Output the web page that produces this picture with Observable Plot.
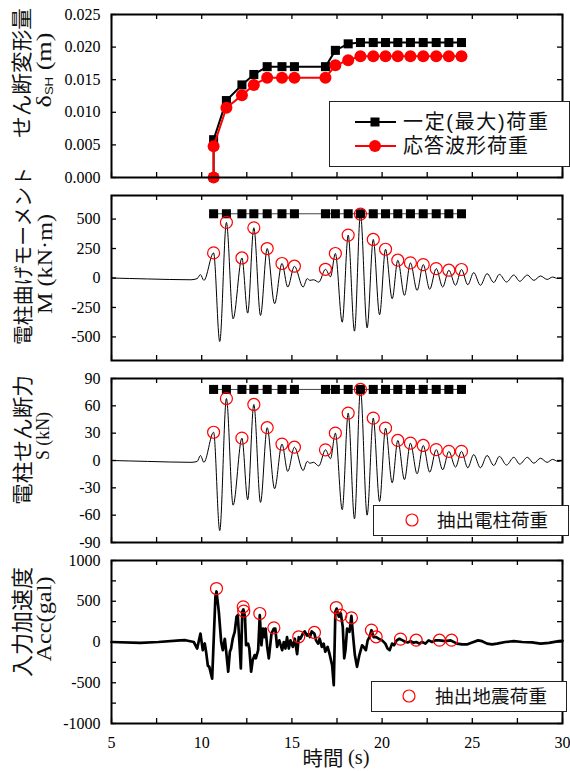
<!DOCTYPE html>
<html><head><meta charset="utf-8">
<script src="https://cdn.jsdelivr.net/npm/d3@7"></script>
<script src="https://cdn.jsdelivr.net/npm/@observablehq/plot@0.6"></script>
<style>
body{margin:0;background:#fff}
#wrap{position:relative;width:570px;height:771px;overflow:hidden;background:#fff}
.pl{position:absolute;left:0}
.ov{position:absolute}
</style></head>
<body><div id="wrap"></div>
<script>
// ---------- data ----------
const xTicks = [5, 7.5, 10, 12.5, 15, 17.5, 20, 22.5, 25, 27.5, 30];
const xLabels = [5, 10, 15, 20, 25, 30];

// extraction times (peaks)
const peakTimes = [10.66, 11.37, 12.23, 12.89, 13.63, 14.45, 15.14, 16.86, 17.41, 18.12, 18.80, 19.51, 20.19, 20.87, 21.57, 22.28, 23.00, 23.70, 24.40];

// panel 1: shear deformation
const dispTime = [10.66, 10.66, 11.37, 12.23, 12.89, 13.63, 14.45, 15.14, 16.86, 17.41, 18.12, 18.80, 19.51, 20.19, 20.87, 21.57, 22.28, 23.00, 23.70, 24.40];
const dispConst = [0, 0.0058, 0.0118, 0.0142, 0.0158, 0.0170, 0.0170, 0.0170, 0.0170, 0.0195, 0.0205, 0.0207, 0.0207, 0.0207, 0.0207, 0.0207, 0.0207, 0.0207, 0.0207, 0.0207];
const dispResp = [0, 0.0048, 0.0107, 0.0126, 0.0142, 0.0153, 0.0153, 0.0153, 0.0153, 0.0172, 0.0180, 0.0186, 0.0186, 0.0186, 0.0186, 0.0186, 0.0186, 0.0186, 0.0186, 0.0186];

// panel 2/3 response waves (peaks and troughs)
const waveTime = [5, 7, 9.4, 9.75, 9.93, 10.12, 10.66, 11.0, 11.37, 11.74, 12.23, 12.55, 12.89, 13.26, 13.63, 14.04, 14.45, 14.77, 15.14, 15.62, 15.85, 16.0, 16.2, 16.49, 16.86, 17.14, 17.41, 17.79, 18.12, 18.47, 18.80, 19.17, 19.51, 19.86, 20.19, 20.56, 20.87, 21.24, 21.57, 21.94, 22.28, 22.64, 23.0, 23.36, 23.70, 24.07, 24.40, 24.75, 25.08, 25.45, 25.82, 26.19, 26.5, 26.9, 27.3, 27.63, 28.05, 28.41, 28.78, 29.15, 29.45, 29.75, 30];
const momentWave = [0, -8, -15, -5, 29, -20, 213, -539, 472, -346, 170, -298, 426, -318, 250, -218, 123, -77, 100, -77, -5, -20, -15, -35, 74, 10, 208, -375, 364, -451, 542, -423, 327, -312, 244, -176, 151, -147, 128, -105, 114, -96, 80, -77, 66, -62, 72, -57, 46, -62, 37, -38, 31, -34, 25, -28, 25, -20, 17, -12, 8, -5, 0];
const shearWave = [0, -1, -2, -1, 5.5, -2, 31, -77, 68, -49, 24.5, -43, 61.5, -46, 36, -31, 18, -12, 14.6, -11, -1, -3, -2, -6, 11.7, 2, 30, -54, 52, -64, 78, -60, 46.5, -45, 35.5, -24.5, 22, -21, 19, -14.6, 16.5, -12.8, 12, -10.2, 10, -7.3, 10, -8, 6.5, -8, 5.5, -5.5, 4.5, -5, 3.5, -4, 3.5, -3, 2.5, -2, 1.2, -1, 0];
const momentConst = [545, 545, 545, 545, 545, 545, 545, 545, 545, 545, 545, 545, 545, 545, 545, 545, 545, 545, 545];
const momentPeak = [213, 472, 170, 426, 250, 123, 100, 74, 208, 364, 542, 327, 244, 151, 128, 114, 80, 66, 72];
const shearConst = [78, 78, 78, 78, 78, 78, 78, 78, 78, 78, 78, 78, 78, 78, 78, 78, 78, 78, 78];
const shearPeak = [31, 68, 24.5, 61.5, 36, 18, 14.6, 11.7, 30, 52, 78, 46.5, 35.5, 22, 19, 16.5, 12, 10, 10];

// panel 4: input acceleration
const accTime = [5, 6.6, 7.6, 8.8, 9.1, 9.56, 9.75, 9.93, 10.06, 10.17, 10.25, 10.34, 10.42, 10.58, 10.76, 10.82, 10.95, 11.08, 11.17, 11.28, 11.35, 11.47, 11.56, 11.63, 11.72, 11.83, 11.93, 12.0, 12.1, 12.17, 12.25, 12.31, 12.40, 12.46, 12.57, 12.64, 12.74, 12.83, 12.94, 13.0, 13.13, 13.22, 13.31, 13.4, 13.47, 13.54, 13.63, 13.72, 13.87, 14.0, 14.08, 14.18, 14.3, 14.46, 14.55, 14.64, 14.73, 14.83, 14.92, 15.05, 15.16, 15.29, 15.38, 15.47, 15.6, 15.71, 15.84, 15.93, 16.0, 16.1, 16.25, 16.34, 16.45, 16.54, 16.66, 16.76, 16.85, 16.98, 17.09, 17.23, 17.32, 17.41, 17.48, 17.6, 17.71, 17.82, 17.9, 17.97, 18.06, 18.19, 18.3, 18.37, 18.49, 18.61, 18.74, 18.89, 18.98, 19.1, 19.2, 19.3, 19.41, 19.53, 19.67, 19.81, 20.0, 20.18, 20.3, 20.42, 20.55, 20.66, 20.81, 20.96, 21.14, 21.3, 21.44, 21.57, 21.75, 21.89, 22.07, 22.22, 22.4, 22.58, 22.77, 22.95, 23.17, 23.5, 23.8, 24.15, 24.43, 24.7, 24.99, 25.32, 25.54, 25.82, 26.1, 26.37, 26.83, 27.3, 27.76, 28.31, 28.78, 29.25, 29.8, 30];
const accValue = [0, -10, 0, 20, 22, 0, -80, 104, -100, -18, -130, -290, -305, -450, 555, 620, 370, 0, -100, 40, -100, -365, -120, -80, 40, 125, 310, 330, -40, -325, 370, 400, 310, -40, -20, -80, -365, -220, -160, -200, -100, 330, -40, 165, 60, 165, -60, -200, 105, 165, 165, -60, 20, -100, 0, -80, 60, -80, 20, -60, 40, -150, 60, 40, 100, 130, 80, 100, 60, 130, 100, 20, -20, 40, -60, -20, -120, -60, -150, -285, -530, 370, 410, 310, 350, 185, -200, -100, 165, 125, 320, 125, -160, -305, -160, -40, -60, -100, 20, 60, 145, 60, 60, 40, 20, -20, -80, -100, -20, -40, 20, 40, 20, 0, -5, 10, -10, 0, -20, 0, -20, 20, 0, 20, 20, 10, 20, -20, -30, -30, -5, 20, 10, -20, -30, -20, 0, 10, 0, -5, -20, -10, 10, 15];
const accPeakTime = [10.82, 12.30, 12.33, 13.22, 14.0, 15.38, 16.25, 17.46, 17.71, 18.30, 19.41, 19.67, 21.02, 21.89, 23.18, 23.85];
const accPeak = [656, 432, 378, 350, 174, 64, 117, 423, 329, 297, 145, 64, 35, 22, 22, 22];

// axis ticks
const dispTicks = [0, 0.005, 0.010, 0.015, 0.020, 0.025];
const momentTicks = [-500, -250, 0, 250, 500];
const shearTicks = [-90, -60, -30, 0, 30, 60, 90];
const accTicks = [-1000, -750, -500, -250, 0, 250, 500, 750, 1000];
const accLabels = [-1000, -500, 0, 500, 1000];

// ---------- helpers ----------
const wrap = document.getElementById("wrap");
const W = 570, ML = 111, MR = 8;
const zip = (xs, ys) => xs.map((x, i) => ({x, y: ys[i]}));

function panel({top, height, mt, mb, yDomain, yTicks, yLabelTicks, yFmt, marks, showX}) {
  const iw = W - ML - MR, ih = height - mt - mb;
  const all = [
    Plot.tickX(xTicks, {x: d => d, insetTop: ih - 5, stroke: "black", strokeWidth: 1.3}),
    Plot.tickX(xTicks, {x: d => d, insetBottom: ih - 5, stroke: "black", strokeWidth: 1.3}),
    Plot.tickY(yTicks, {y: d => d, insetRight: iw - 5, stroke: "black", strokeWidth: 1.3}),
    Plot.tickY(yTicks, {y: d => d, insetLeft: iw - 5, stroke: "black", strokeWidth: 1.3}),
    Plot.axisY(yLabelTicks, {tickSize: 0, tickPadding: 11, tickFormat: yFmt, label: null, fontSize: 16}),
    ...marks,
    Plot.frame({stroke: "black", strokeWidth: 2})
  ];
  if (showX) all.push(Plot.axisX(xLabels, {tickSize: 0, tickPadding: 13, tickFormat: d => String(d), label: null, fontSize: 16}));
  const p = Plot.plot({
    width: W, height, marginLeft: ML, marginRight: MR, marginTop: mt, marginBottom: mb,
    x: {domain: [5, 30], axis: showX ? undefined : null},
    y: {domain: yDomain},
    style: {fontFamily: "Liberation Serif", fontSize: "16px", background: "transparent", overflow: "visible", color: "black"},
    marks: all
  });
  p.classList.add("pl");
  p.style.top = top + "px";
  wrap.appendChild(p);
}

// ---------- panel 1 ----------
const constData = zip(dispTime, dispConst);
const respData = zip(dispTime, dispResp);
panel({
  top: 0, height: 186, mt: 14, mb: 9, yDomain: [0, 0.025], yTicks: dispTicks, yLabelTicks: dispTicks,
  yFmt: d3.format(".3f"),
  marks: [
    Plot.line(constData, {x: "x", y: "y", stroke: "black", strokeWidth: 2}),
    Plot.dot(constData, {x: "x", y: "y", symbol: "square", fill: "black", r: 5.1}),
    Plot.line(respData, {x: "x", y: "y", stroke: "#ff0000", strokeWidth: 2}),
    Plot.dot(respData, {x: "x", y: "y", symbol: "circle", fill: "#ff0000", r: 6})
  ]
});

// ---------- panel 2 ----------
const mConst = zip(peakTimes, momentConst);
panel({
  top: 186, height: 182, mt: 9, mb: 8, yDomain: [-700, 700], yTicks: momentTicks, yLabelTicks: momentTicks,
  yFmt: d => String(d),
  marks: [
    Plot.line(mConst, {x: "x", y: "y", stroke: "#444", strokeWidth: 1}),
    Plot.dot(mConst, {x: "x", y: "y", symbol: "square", fill: "black", r: 5.1}),
    Plot.line(zip(waveTime, momentWave), {x: "x", y: "y", stroke: "black", strokeWidth: 1, curve: "monotone-x"}),
    Plot.dot(zip(peakTimes, momentPeak), {x: "x", y: "y", stroke: "#ff0000", fill: "none", r: 6, strokeWidth: 1.2})
  ]
});

// ---------- panel 3 ----------
const sConst = zip(peakTimes, shearConst);
panel({
  top: 368, height: 181, mt: 10, mb: 7, yDomain: [-90, 90], yTicks: shearTicks, yLabelTicks: shearTicks,
  yFmt: d => String(d),
  marks: [
    Plot.line(sConst, {x: "x", y: "y", stroke: "#444", strokeWidth: 1}),
    Plot.dot(sConst, {x: "x", y: "y", symbol: "square", fill: "black", r: 5.1}),
    Plot.line(zip(waveTime, shearWave), {x: "x", y: "y", stroke: "black", strokeWidth: 1, curve: "monotone-x"}),
    Plot.dot(zip(peakTimes, shearPeak), {x: "x", y: "y", stroke: "#ff0000", fill: "none", r: 6, strokeWidth: 1.2})
  ]
});

// ---------- panel 4 ----------
panel({
  top: 549, height: 222, mt: 11, mb: 48, yDomain: [-1000, 1000], yTicks: accTicks, yLabelTicks: accLabels,
  yFmt: d => String(d), showX: true,
  marks: [
    Plot.line(zip(accTime, accValue), {x: "x", y: "y", stroke: "black", strokeWidth: 2.7, strokeLinejoin: "round"}),
    Plot.dot(zip(accPeakTime, accPeak), {x: "x", y: "y", stroke: "#ff0000", fill: "none", r: 6, strokeWidth: 1.2})
  ]
});

// ---------- axis titles (rotated) ----------
const NS = "http://www.w3.org/2000/svg";
const JP = "Noto Sans CJK JP", SF = "Liberation Serif";
const titles = [
  {x: 20, y: 73, f: JP, size: 21, len: 130, rot: true, html: "せん断変形量"},
  {x: 44, y: 70, f: SF, size: 20, len: 75, rot: true, html: "δ<tspan font-family='Liberation Sans' font-size='10' dy='5'>SH</tspan><tspan dy='-5'> (m)</tspan>"},
  {x: 22, y: 256, f: JP, size: 20, len: 178, rot: true, html: "電柱曲げモーメント"},
  {x: 45, y: 264, f: SF, size: 21, len: 100, rot: true, html: "M (kN·m)"},
  {x: 21, y: 440, f: JP, size: 21, len: 130, rot: true, html: "電柱せん断力"},
  {x: 43, y: 436, f: SF, size: 18, len: 48, rot: true, html: "S (kN)"},
  {x: 20, y: 622, f: JP, size: 22, len: 110, rot: true, html: "入力加速度"},
  {x: 44, y: 619, f: SF, size: 21, len: 85, rot: true, html: "Acc(gal)"},
  {x: 336, y: 757, f: JP, size: 20, len: 67, rot: false, html: "時間 <tspan font-family='Liberation Serif'>(s)</tspan>"}
];
const ts = document.createElementNS(NS, "svg");
ts.setAttribute("width", 570); ts.setAttribute("height", 771);
ts.setAttribute("class", "ov"); ts.style.left = "0px"; ts.style.top = "0px"; ts.style.pointerEvents = "none";
ts.innerHTML = titles.map(t =>
  `<text transform="translate(${t.x},${t.y})${t.rot ? " rotate(-90)" : ""}" text-anchor="middle" dominant-baseline="central" font-family="${t.f}" font-size="${t.size}" fill="#111" textLength="${t.len}" lengthAdjust="spacingAndGlyphs">${t.html}</text>`
).join("");
wrap.appendChild(ts);

// ---------- legends ----------
function legend(left, top, w, h, items, fontSize) {
  const s = document.createElementNS(NS, "svg");
  s.setAttribute("width", w); s.setAttribute("height", h);
  s.setAttribute("class", "ov");
  s.style.left = left + "px"; s.style.top = top + "px";
  let html = `<rect x="0.5" y="0.5" width="${w - 1}" height="${h - 1}" fill="white" stroke="#222" stroke-width="1"/>`;
  for (const it of items) {
    if (it.line) html += `<line x1="${it.cx - 20}" x2="${it.cx + 21}" y1="${it.cy}" y2="${it.cy}" stroke="${it.color}" stroke-width="2"/>`;
    if (it.sym === "square") html += `<rect x="${it.cx - 4.5}" y="${it.cy - 4.5}" width="9" height="9" fill="${it.color}"/>`;
    else if (it.sym === "dot") html += `<circle cx="${it.cx}" cy="${it.cy}" r="6" fill="${it.color}"/>`;
    else html += `<circle cx="${it.cx}" cy="${it.cy}" r="6" fill="none" stroke="${it.color}" stroke-width="1.2"/>`;
    html += `<text x="${it.tx}" y="${it.cy}" dominant-baseline="central" font-family="Liberation Sans, Noto Sans CJK JP" font-size="${fontSize}" fill="#111" textLength="${it.len}" lengthAdjust="spacing">${it.label}</text>`;
  }
  s.innerHTML = html;
  wrap.appendChild(s);
}
legend(329, 101, 241, 66, [
  {cx: 46, cy: 21, tx: 74, color: "black", sym: "square", line: true, label: "一定(最大)荷重", len: 145},
  {cx: 46, cy: 45, tx: 74, color: "#ff0000", sym: "dot", line: true, label: "応答波形荷重", len: 125}
], 20);
legend(373, 505, 196, 31, [
  {cx: 39, cy: 15, tx: 64, color: "#ff0000", sym: "open", label: "抽出電柱荷重", len: 111}
], 18.5);
legend(371, 681, 196, 31, [
  {cx: 38, cy: 15, tx: 64, color: "#ff0000", sym: "open", label: "抽出地震荷重", len: 112}
], 18.5);
</script>
</body></html>
